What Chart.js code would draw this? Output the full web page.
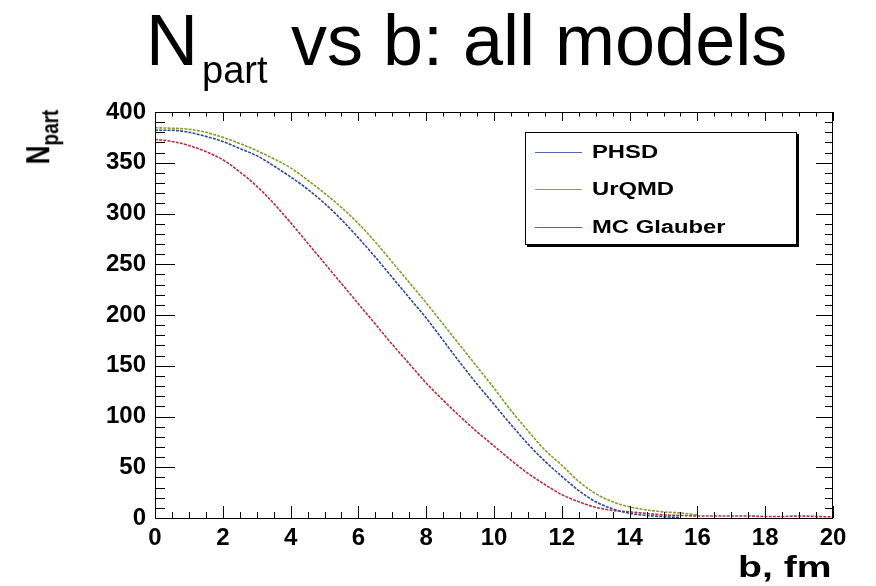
<!DOCTYPE html>
<html>
<head>
<meta charset="utf-8">
<script src="https://cdn.jsdelivr.net/npm/chart.js@4/dist/chart.umd.min.js"></script>
<style>
  html, body { margin: 0; padding: 0; background: #fff; }
  #wrap { position: relative; width: 876px; height: 586px; overflow: hidden; }
  #chart { position: absolute; left: 0; top: 0; }
  .txt { position: absolute; white-space: nowrap; color: #000; line-height: 1; }
  .title { font-family: "Liberation Sans", Arial, sans-serif; }
  .bold { font-family: "Liberation Sans", Arial, sans-serif; font-weight: bold; }
  #legend {
    position: absolute; left: 525px; top: 132px; width: 270px; height: 111px;
    border: 1px solid #000; box-shadow: 2px 2px 0 #000; background: #fff;
  }
  .lg-line { position: absolute; left: 9px; width: 47px; height: 0; border-top: 1.5px solid; }
  .lg-text { position: absolute; left: 66px; font-size: 17.5px; transform: scaleX(1.36); transform-origin: left center; }
</style>
</head>
<body>
<div id="wrap">
  <canvas id="chart" width="876" height="586"></canvas>

  <div class="txt title" style="left:146px; top:4px; font-size:72px;">N</div>
  <div class="txt title" style="left:202px; top:51px; font-size:38px;">part</div>
  <div class="txt title" style="left:291px; top:4px; font-size:72px;">vs b: all models</div>

  <div class="txt bold" style="left:38px; top:137px; font-size:26px; transform: translate(-50%,-50%) rotate(-90deg) scaleY(1.25);">N<span style="font-size:19px; position:relative; top:7px;">part</span></div>
  <div class="txt bold" style="left:738px; top:553px; font-size:29px; transform: scaleX(1.35); transform-origin: left top;">b, fm</div>

  <div id="legend">
    <div class="lg-line" style="top:19px; border-color:#4f68aa;"></div>
    <div class="txt bold lg-text" style="top:11px;">PHSD</div>
    <div class="lg-line" style="top:56px; border-color:#93a33c;"></div>
    <div class="txt bold lg-text" style="top:48px;">UrQMD</div>
    <div class="lg-line" style="top:94px; border-color:#bb3f4a;"></div>
    <div class="txt bold lg-text" style="top:86px;">MC Glauber</div>
  </div>
</div>

<script>
// impact parameter b, fm
const B = [
  0, 0.5, 1, 1.5, 2, 2.5, 3, 3.5, 4, 4.5,
  5, 5.5, 6, 6.5, 7, 7.5, 8, 8.5, 9, 9.5,
  10, 10.5, 11, 11.5, 12, 12.5, 13, 13.5, 14, 14.5,
  15, 15.5, 16, 16.5, 17, 17.5, 18, 18.5, 19, 19.5, 20,
];

// Npart values
const PHSD = [
  382, 382, 380, 376, 371, 364, 357, 347, 336, 324,
  310, 294, 276, 257, 237, 217, 197, 175, 153, 132,
  112, 92, 73, 56, 41, 27, 16, 9, 4.6, 2.5,
  1.3, 0.4,
];
const URQMD = [
  384.5, 384, 383, 380, 375, 369, 362, 354, 345, 333,
  320, 306, 290, 272, 252, 232, 212, 191, 170, 149,
  128, 106, 86, 67, 52, 36, 24, 16, 11, 8,
  6, 5, 3,
];
const GLAUBER = [
  373, 371, 367, 361, 353, 341, 327, 310, 291, 271,
  251, 231, 211, 191, 171, 152, 133, 116, 100, 85,
  71, 57, 44, 33, 23, 16, 10.5, 7.5, 6, 4.5,
  3, 2.5, 2, 2, 2, 2, 1.5, 1.5, 2, 1.5, 1,
];

const SERIES_NAMES = ["PHSD", "UrQMD", "MC Glauber"];

const COLORS = {
  phsd: "#2f4a99",
  urqmd: "#8a9b2b",
  glauber: "#b8303c",
  frame: "#000000",
};

const X_MAJOR = 2, X_MINOR = 0.5;
const Y_MAJOR = 50, Y_MINOR = 10;

const TICK_FONT = { family: "Liberation Sans", weight: "bold", size: 24 };

function toPoints(values) {
  return values.map((v, i) => ({ x: B[i], y: v }));
}

function lineSet(label, values, color) {
  return {
    label: label,
    data: toPoints(values),
    borderColor: color,
    backgroundColor: color,
    borderWidth: 1.6,
    borderDash: [3, 1.2],
    pointRadius: 0,
    fill: false,
    cubicInterpolationMode: "monotone",
  };
}

// ROOT style frame with inward ticks on all four sides
const rootFrame = {
  id: "rootFrame",
  afterDatasetsDraw(chart) {
    const { ctx, chartArea: a, scales } = chart;
    const x = scales.x, y = scales.y;
    ctx.save();
    ctx.strokeStyle = COLORS.frame;
    ctx.lineWidth = 1;
    ctx.strokeRect(a.left + 0.5, a.top + 0.5, a.right - a.left - 1, a.bottom - a.top);
    ctx.beginPath();
    for (let v = x.min; v <= x.max + 1e-9; v += X_MINOR) {
      const px = Math.round(x.getPixelForValue(v)) + 0.5;
      const major = Math.abs(v / X_MAJOR - Math.round(v / X_MAJOR)) < 1e-6;
      ctx.moveTo(px, a.bottom);
      ctx.lineTo(px, a.bottom - (major ? 12 : 6));
      ctx.moveTo(px, a.top);
      ctx.lineTo(px, a.top + (major ? 9 : 4.5));
    }
    for (let v = y.min; v <= y.max + 1e-9; v += Y_MINOR) {
      const py = Math.round(y.getPixelForValue(v)) + 0.5;
      const major = v % Y_MAJOR === 0;
      ctx.moveTo(a.left, py);
      ctx.lineTo(a.left + (major ? 20 : 10), py);
      ctx.moveTo(a.right, py);
      ctx.lineTo(a.right - (major ? 17 : 8), py);
    }
    ctx.stroke();
    ctx.restore();
  },
};

function initChart() {
  const canvas = document.getElementById("chart");
  new Chart(canvas, {
    type: "line",
    data: {
      datasets: [
        lineSet(SERIES_NAMES[0], PHSD, COLORS.phsd),
        lineSet(SERIES_NAMES[1], URQMD, COLORS.urqmd),
        lineSet(SERIES_NAMES[2], GLAUBER, COLORS.glauber),
      ],
    },
    options: {
      responsive: false,
      animation: false,
      layout: { padding: { left: 0, top: 112, right: 43, bottom: 0 } },
      plugins: { legend: { display: false }, tooltip: { enabled: false } },
      scales: {
        x: {
          type: "linear",
          min: 0,
          max: 20,
          grid: { display: false, drawTicks: false },
          border: { display: false },
          ticks: {
            stepSize: X_MAJOR,
            padding: 6,
            color: "#000",
            font: TICK_FONT,
          },
          afterFit(scale) { scale.height = 68; },
        },
        y: {
          min: 0,
          max: 400,
          grid: { display: false, drawTicks: false },
          border: { display: false },
          ticks: {
            stepSize: Y_MAJOR,
            padding: 9,
            color: "#000",
            font: TICK_FONT,
          },
          afterFit(scale) { scale.width = 155; },
        },
      },
    },
    plugins: [rootFrame],
  });
}

document.addEventListener("DOMContentLoaded", initChart);
</script>
</body>
</html>
